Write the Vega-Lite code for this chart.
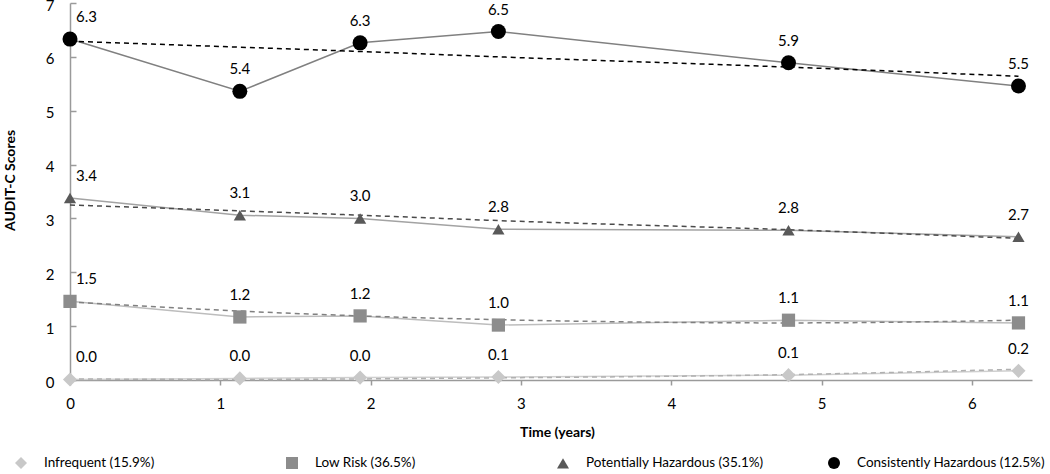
{
  "$schema": "https://vega.github.io/schema/vega-lite/v6.json",
  "width": 962,
  "height": 377,
  "autosize": {"type": "none"},
  "padding": {"left": 70, "top": 3, "right": 18, "bottom": 94},
  "background": "white",
  "config": {
    "view": {"stroke": null},
    "font": "Lato",
    "axis": {"grid": false, "domainColor": "#9a9a9a", "domainWidth": 1.5, "tickColor": "#9a9a9a", "tickWidth": 1.5, "labelFontSize": 15, "labelColor": "#000000", "titleFontSize": 14, "titleFontWeight": "bold", "titleColor": "#000000", "labelFont": "Lato", "titleFont": "Lato"}
  },
  "data": {
    "values": [
      {"series": "Infrequent (15.9%)", "time": 0, "score": 0.01, "trend": 0.02},
      {"series": "Infrequent (15.9%)", "time": 1.13, "score": 0.03, "trend": 0.01},
      {"series": "Infrequent (15.9%)", "time": 1.93, "score": 0.045, "trend": 0.02},
      {"series": "Infrequent (15.9%)", "time": 2.85, "score": 0.055, "trend": 0.04},
      {"series": "Infrequent (15.9%)", "time": 4.78, "score": 0.09, "trend": 0.1},
      {"series": "Infrequent (15.9%)", "time": 6.31, "score": 0.17, "trend": 0.2},
      {"series": "Low Risk (36.5%)", "time": 0, "score": 1.46, "trend": 1.45},
      {"series": "Low Risk (36.5%)", "time": 1.13, "score": 1.17, "trend": 1.28},
      {"series": "Low Risk (36.5%)", "time": 1.93, "score": 1.19, "trend": 1.19},
      {"series": "Low Risk (36.5%)", "time": 2.85, "score": 1.02, "trend": 1.12},
      {"series": "Low Risk (36.5%)", "time": 4.78, "score": 1.11, "trend": 1.06},
      {"series": "Low Risk (36.5%)", "time": 6.31, "score": 1.06, "trend": 1.11},
      {"series": "Potentially Hazardous (35.1%)", "time": 0, "score": 3.38, "trend": 3.25},
      {"series": "Potentially Hazardous (35.1%)", "time": 1.13, "score": 3.06, "trend": 3.14},
      {"series": "Potentially Hazardous (35.1%)", "time": 1.93, "score": 3.0, "trend": 3.06},
      {"series": "Potentially Hazardous (35.1%)", "time": 2.85, "score": 2.8, "trend": 2.96},
      {"series": "Potentially Hazardous (35.1%)", "time": 4.78, "score": 2.78, "trend": 2.79},
      {"series": "Potentially Hazardous (35.1%)", "time": 6.31, "score": 2.66, "trend": 2.63},
      {"series": "Consistently Hazardous  (12.5%)", "time": 0, "score": 6.33, "trend": 6.29},
      {"series": "Consistently Hazardous  (12.5%)", "time": 1.13, "score": 5.36, "trend": 6.18},
      {"series": "Consistently Hazardous  (12.5%)", "time": 1.93, "score": 6.26, "trend": 6.1},
      {"series": "Consistently Hazardous  (12.5%)", "time": 2.85, "score": 6.47, "trend": 6.0},
      {"series": "Consistently Hazardous  (12.5%)", "time": 4.78, "score": 5.89, "trend": 5.81},
      {"series": "Consistently Hazardous  (12.5%)", "time": 6.31, "score": 5.46, "trend": 5.64}
    ]
  },
  "encoding": {
    "x": {
      "field": "time", "type": "quantitative",
      "scale": {"domain": [0, 6.4], "nice": false, "zero": false},
      "axis": {"title": "Time (years)", "values": [0, 1, 2, 3, 4, 5, 6], "format": "d", "labelFlush": false, "tickSize": 5, "labelPadding": 11, "titleX": 487, "titleY": 52, "titleBaseline": "middle", "titleAlign": "center"}
    }
  },
  "layer": [
    {
      "mark": {"type": "line", "strokeWidth": 1.5},
      "encoding": {
        "y": {"field": "score", "type": "quantitative", "scale": {"domain": [0, 7], "nice": false},
          "axis": {"title": "AUDIT-C Scores", "values": [0, 1, 2, 3, 4, 5, 6, 7], "format": "d", "tickSize": -6, "labelPadding": 22, "labelOffset": 2, "titleAngle": -90, "titleX": -60, "titleY": 177, "titleAlign": "center", "titleBaseline": "middle"}},
        "stroke": {"field": "series", "type": "nominal", "scale": {"range": ["#808080", "#cfcfcf", "#bdbdbd", "#a3a3a3"]}, "legend": null}
      }
    },
    {
      "mark": {"type": "line", "strokeWidth": 1.5, "strokeDash": [5, 4], "interpolate": "monotone"},
      "encoding": {
        "y": {"field": "trend", "type": "quantitative", "title": "AUDIT-C Scores"},
        "color": {"field": "series", "type": "nominal", "scale": {"range": ["#000000", "#b0b0b0", "#808080", "#4a4a4a"]}, "legend": null}
      }
    },
    {
      "mark": {"type": "point", "filled": true, "opacity": 1, "strokeWidth": 0},
      "encoding": {
        "y": {"field": "score", "type": "quantitative", "title": "AUDIT-C Scores"},
        "size": {"field": "series", "type": "nominal", "scale": {"range": [225, 150, 150, 170]}, "legend": null},
        "fill": {"field": "series", "type": "nominal", "scale": {"domain": ["Infrequent (15.9%)", "Low Risk (36.5%)", "Potentially Hazardous (35.1%)", "Consistently Hazardous  (12.5%)"], "range": ["#c8c8c8", "#8c8c8c", "#595959", "#000000"]},
          "legend": {"title": null, "orient": "none", "legendX": -67, "legendY": 453, "direction": "horizontal", "columns": 4, "gridAlign": "all", "columnPadding": 38, "labelFontSize": 13.5, "labelColor": "#000000", "labelFont": "Lato", "symbolSize": 144, "symbolOffset": 11, "labelOffset": 16, "padding": 0, "labelLimit": 400, "symbolOpacity": 1}},
        "shape": {"field": "series", "type": "nominal", "scale": {"domain": ["Infrequent (15.9%)", "Low Risk (36.5%)", "Potentially Hazardous (35.1%)", "Consistently Hazardous  (12.5%)"], "range": ["diamond", "square", "triangle-up", "circle"]},
          "legend": {"title": null, "orient": "none", "legendX": -67, "legendY": 453, "direction": "horizontal", "columns": 4, "gridAlign": "all", "columnPadding": 38, "labelFontSize": 13.5, "labelColor": "#000000", "labelFont": "Lato", "symbolSize": 144, "symbolOffset": 11, "labelOffset": 16, "padding": 0, "labelLimit": 400, "symbolOpacity": 1}}
      }
    },
    {
      "transform": [{"filter": "datum.time == 0"}],
      "mark": {"type": "text", "align": "left", "baseline": "alphabetic", "dx": 6, "dy": -17, "fontSize": 15, "color": "#000000", "font": "Lato"},
      "encoding": {
        "y": {"field": "score", "type": "quantitative", "title": "AUDIT-C Scores"},
        "text": {"field": "score", "type": "quantitative", "format": ".1f"}
      }
    },
    {
      "transform": [{"filter": "datum.time > 0"}],
      "mark": {"type": "text", "align": "center", "baseline": "alphabetic", "dy": -17, "fontSize": 15, "color": "#000000", "font": "Lato"},
      "encoding": {
        "y": {"field": "score", "type": "quantitative", "title": "AUDIT-C Scores"},
        "text": {"field": "score", "type": "quantitative", "format": ".1f"}
      }
    }
  ]
}
